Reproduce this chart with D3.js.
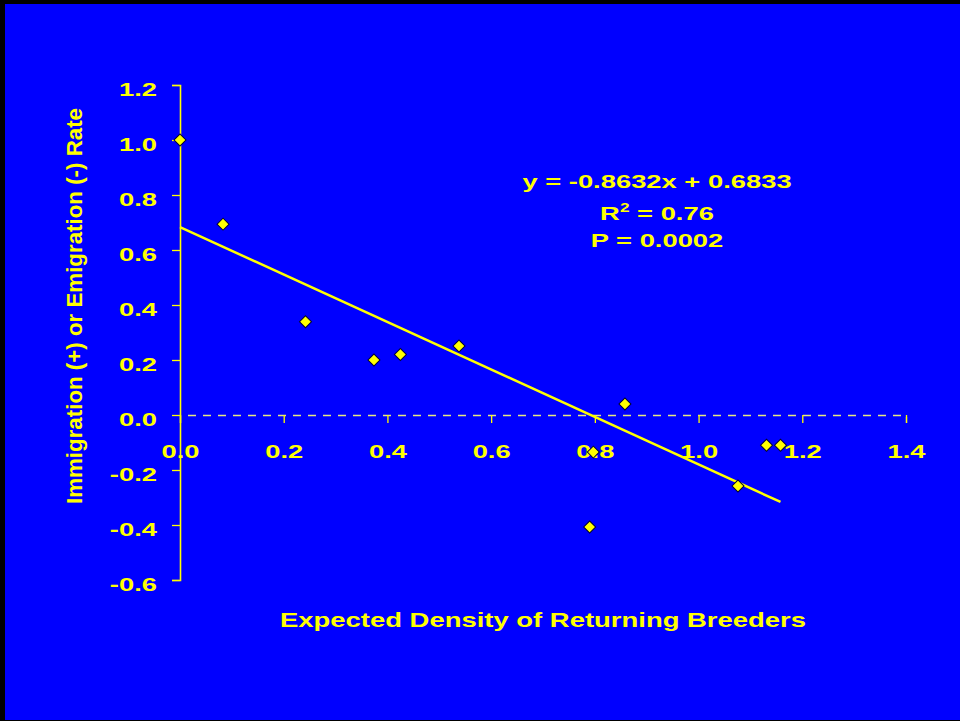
<!DOCTYPE html>
<html>
<head>
<meta charset="utf-8">
<script src="https://cdn.jsdelivr.net/npm/d3@7"></script>
<style>
  body { margin: 0; background: #000; }
  svg { display: block; }
  text { font-family: "Liberation Sans", Arial, sans-serif; font-weight: bold; fill: #ffff00; }
</style>
</head>
<body>
<div id="content"></div>
<script>
// data
var densities = [0.0, 0.083, 0.242, 0.374, 0.425, 0.538, 0.797, 0.790, 0.858, 1.076, 1.131, 1.158];
var migrationRates = [1.0, 0.694, 0.339, 0.2, 0.22, 0.251, -0.135, -0.407, 0.04, -0.258, -0.11, -0.11];
var xTicks = [0, 0.2, 0.4, 0.6, 0.8, 1.0, 1.2, 1.4];
var yTicks = [-0.6, -0.4, -0.2, 0, 0.2, 0.4, 0.6, 0.8, 1.0, 1.2];
var slope = -0.8632;
var intercept = 0.6833;
var statLines = ["y = -0.8632x + 0.6833", "R2 = 0.76", "P = 0.0002"];

var width = 960;
var height = 721;
var stretch = 1.44; // the text in the picture is stretched sideways

var svg = d3.select("#content").append("svg").attr("width", width).attr("height", height);

svg.append("rect").attr("width", width).attr("height", height).attr("fill", "#000");
svg.append("rect").attr("x", 5).attr("y", 4).attr("width", width - 5).attr("height", 716).attr("fill", "#0000ff");

var x = d3.scaleLinear().domain([0, 1.4]).range([180, 906]);
var y = d3.scaleLinear().domain([-0.6, 1.2]).range([580, 85]);

// plain hyphen for negatives, like the original
var fmt = function (d) { return d.toFixed(1); };

// x axis (dashed, along y = 0)
var xAxis = svg.append("g")
    .attr("transform", `translate(0, ${y(0)})`)
    .call(d3.axisBottom(x).tickValues(xTicks).tickSize(8).tickFormat(fmt));

xAxis.select(".domain")
    .attr("stroke", "#e8e880")
    .attr("stroke-width", 1.3)
    .attr("stroke-dasharray", "8,7");
xAxis.selectAll(".tick line").attr("stroke", "#ffff00").attr("stroke-width", 1.3);
xAxis.selectAll(".tick text")
    .attr("y", 0)
    .attr("dy", 0)
    .attr("transform", `translate(0, 43) scale(${stretch}, 1)`)
    .style("font-size", "19px")
    .attr("font-family", null);

// trend line
svg.append("line")
    .attr("x1", x(0))
    .attr("y1", y(intercept))
    .attr("x2", x(d3.max(densities)))
    .attr("y2", y(slope * d3.max(densities) + intercept))
    .attr("stroke", "#ffff00")
    .attr("stroke-width", 2.5);

// y axis
var yAxis = svg.append("g")
    .attr("transform", `translate(${x(0)}, 0)`)
    .call(d3.axisLeft(y).tickValues(yTicks).tickSize(8).tickFormat(fmt));

yAxis.select(".domain").attr("stroke", "#ffff00").attr("stroke-width", 1.6);
yAxis.selectAll(".tick line").attr("stroke", "#ffff00").attr("stroke-width", 1.3);
yAxis.selectAll(".tick text")
    .attr("x", 0)
    .attr("dy", 10)
    .attr("transform", `translate(-23, 0) scale(${stretch}, 1)`)
    .style("font-size", "19px")
    .attr("font-family", null);

// points
var diamond = d3.symbol().type(d3.symbolSquare).size(72);

svg.append("g")
    .selectAll("path")
    .data(densities)
    .enter()
    .append("path")
    .attr("d", diamond)
    .attr("transform", function (d, i) { return `translate(${x(d)}, ${y(migrationRates[i])}) rotate(45)`; })
    .attr("fill", "#ffff00")
    .attr("stroke", "#000033")
    .attr("stroke-width", 1);

// regression text
var stats = svg.append("g").attr("class", "stats");
var baselines = [188, 220, 247];

statLines.forEach(function (line, i) {
    var t = stats.append("text")
        .attr("text-anchor", "middle")
        .attr("transform", `translate(657, ${baselines[i]}) scale(${stretch}, 1)`)
        .style("font-size", "19px");
    if (line.startsWith("R2")) {
        t.append("tspan").text("R");
        t.append("tspan").attr("dy", -8).style("font-size", "12px").text("2");
        t.append("tspan").attr("dy", 8).text(line.slice(2));
    } else {
        t.text(line);
    }
});

// axis titles
svg.append("text")
    .attr("x", 543)
    .attr("y", 627)
    .attr("text-anchor", "middle")
    .attr("textLength", 526)
    .attr("lengthAdjust", "spacingAndGlyphs")
    .style("font-size", "21px")
    .text("Expected Density of Returning Breeders");

svg.append("text")
    .attr("transform", "translate(82, 306) rotate(-90)")
    .attr("text-anchor", "middle")
    .attr("textLength", 396)
    .attr("lengthAdjust", "spacingAndGlyphs")
    .style("font-size", "22px")
    .text("Immigration (+) or Emigration (-) Rate");
</script>
</body>
</html>
